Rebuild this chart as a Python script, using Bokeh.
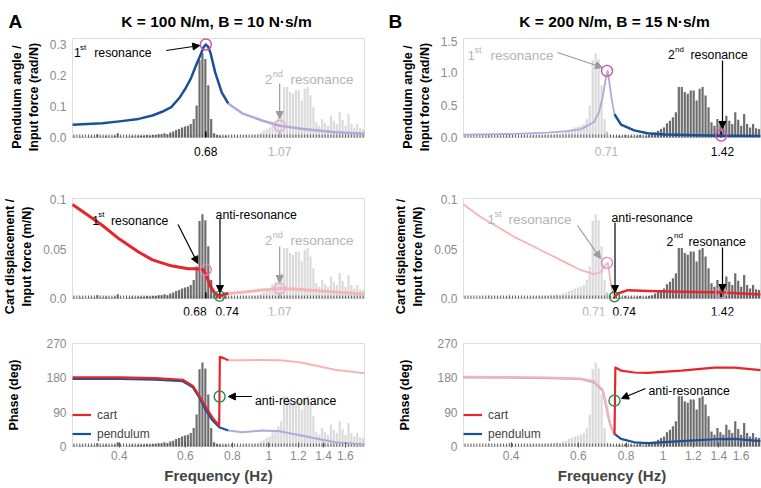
import numpy as np
from bokeh.plotting import figure
from bokeh.models import (Range1d, FixedTicker, Label, Arrow, NormalHead, Legend, LegendItem,
                          BoxAnnotation)
from bokeh.layouts import row, column
from bokeh.embed import file_html
from bokeh.resources import INLINE

FONT = "Liberation Sans"
F_MIN, F_MAX = 0.3, 1.8
N_BINS = 100

# ---------------- data ----------------
hist_norm = [0.01, 0.00, 0.01, 0.01, 0.00, 0.01, 0.01, 0.01, 0.04, 0.01,
             0.01, 0.02, 0.01, 0.01, 0.02, 0.05, 0.01, 0.00, 0.01, 0.01,
             0.02, 0.01, 0.02, 0.02, 0.02, 0.03, 0.02, 0.03, 0.03, 0.04,
             0.04, 0.05, 0.04, 0.06, 0.07, 0.09, 0.10, 0.12, 0.13, 0.14,
             0.16, 0.22, 0.38, 0.92, 1.00, 0.93, 0.62, 0.22, 0.05, 0.03,
             0.02, 0.01, 0.02, 0.01, 0.03, 0.01, 0.02, 0.01, 0.02, 0.03,
             0.01, 0.02, 0.03, 0.04, 0.06, 0.08, 0.10, 0.12, 0.17, 0.20,
             0.24, 0.30, 0.60, 0.60, 0.54, 0.52, 0.56, 0.56, 0.44, 0.58,
             0.60, 0.50, 0.36, 0.18, 0.14, 0.22, 0.17, 0.14, 0.26, 0.20,
             0.16, 0.30, 0.21, 0.14, 0.28, 0.16, 0.12, 0.16, 0.11, 0.10]

titleA = "K = 100 N/m, B = 10 N·s/m"
titleB = "K = 200 N/m, B = 15 N·s/m"

# column A (dark for f <= cutA)
cutA = 0.78
pendA_f = [0.30, 0.36, 0.40, 0.45, 0.49, 0.52, 0.55, 0.58, 0.60, 0.62, 0.64, 0.66, 0.67, 0.68,
           0.69, 0.70, 0.72, 0.75, 0.78, 0.85, 0.96, 1.07, 1.22, 1.50, 1.80]
pendA_v = [0.041, 0.046, 0.052, 0.060, 0.071, 0.083, 0.098, 0.130, 0.158, 0.190, 0.232, 0.270,
           0.290, 0.300, 0.292, 0.272, 0.210, 0.145, 0.110, 0.078, 0.055, 0.038, 0.028, 0.017, 0.012]
cartA_f = [0.30, 0.33, 0.36, 0.40, 0.45, 0.49, 0.55, 0.61, 0.64, 0.67, 0.684, 0.70, 0.72, 0.74,
           0.76, 0.78, 0.85, 0.96, 1.07, 1.22, 1.50, 1.80]
cartA_v = [0.095, 0.084, 0.074, 0.060, 0.047, 0.039, 0.033, 0.030, 0.030, 0.029, 0.022, 0.012,
           0.005, 0.0024, 0.0042, 0.005, 0.0062, 0.0085, 0.0100, 0.0092, 0.0065, 0.0045]
phPendA_f = [0.30, 0.40, 0.50, 0.59, 0.628, 0.653, 0.681, 0.709, 0.738, 0.78, 0.85, 0.96, 1.07,
             1.22, 1.50, 1.80]
phPendA_v = [177, 177, 175, 171, 155, 129, 94, 68, 50.5, 42, 37.5, 42, 40, 29, 11, 5]
phCartA_f = [0.30, 0.40, 0.50, 0.59, 0.628, 0.653, 0.681, 0.709, 0.738, 0.741, 0.761, 0.78, 0.85,
             0.96, 1.07, 1.22, 1.50, 1.80]
phCartA_v = [181, 181, 179, 175, 159, 133, 103, 75, 55, 235, 231, 226, 226, 227, 226, 220, 201, 192]

# column B (dark for f >= cutB)
cutB = 0.746
pendB_f = [0.30, 0.41, 0.50, 0.56, 0.61, 0.66, 0.68, 0.695, 0.709, 0.716, 0.723, 0.733, 0.746,
           0.776, 0.84, 0.91, 1.01, 1.23, 1.44, 1.80]
pendB_v = [0.045, 0.055, 0.075, 0.100, 0.130, 0.240, 0.400, 0.630, 0.940, 1.030, 0.860, 0.600,
           0.360, 0.200, 0.110, 0.065, 0.045, 0.033, 0.028, 0.025]
cartB_f = [0.30, 0.332, 0.368, 0.407, 0.45, 0.498, 0.551, 0.609, 0.66, 0.688, 0.705, 0.716,
           0.728, 0.738, 0.746, 0.761, 0.809, 0.912, 1.116, 1.439, 1.80]
cartB_v = [0.095, 0.0825, 0.0724, 0.0623, 0.054, 0.0455, 0.037, 0.0286, 0.0246, 0.027, 0.0337,
           0.036, 0.0185, 0.005, 0.0017, 0.005, 0.0084, 0.0077, 0.0067, 0.006, 0.004]
phPendB_f = [0.30, 0.40, 0.50, 0.609, 0.66, 0.695, 0.713, 0.723, 0.746, 0.776, 0.841, 0.912,
             1.116, 1.365, 1.541, 1.80]
phPendB_v = [181, 180, 179, 177, 168, 146, 94, 64, 33, 20, 11, 9, 14, 19, 20, 14]
phCartB_f = [0.30, 0.40, 0.50, 0.609, 0.66, 0.695, 0.713, 0.73, 0.746, 0.750, 0.776, 0.841,
             0.912, 1.116, 1.365, 1.541, 1.80]
phCartB_v = [183, 182, 181, 178.5, 171, 149, 103, 50.5, 31, 207, 199, 194, 193, 199, 207, 207, 200]

# marked points
resA_f = [0.68, 1.07]
resA_pend = [0.300, 0.038]
resA_cart = [0.029, 0.010]
resA_lab = ["0.68", "1.07"]
antiA_f, antiA_cart, antiA_phase, antiA_lab = 0.74, 0.0024, 131, "0.74"
resB_f = [0.713, 1.42]
resB_pend = [1.03, 0.030]
resB_cart = [0.036, 0.006]
resB_lab = ["0.71", "1.42"]
antiB_f, antiB_cart, antiB_phase, antiB_lab = 0.746, 0.0017, 120, "0.74"

freq_ticks = [0.4, 0.6, 0.8, 1.0, 1.2, 1.4, 1.6]
freq_tick_labels = ["0.4", "0.6", "0.8", "1", "1.2", "1.4", "1.6"]

# ---------------- styles ----------------
DBLUE, LBLUE = "#1c4f9a", "#aeaade"
DRED, LRED = "#e4262b", "#f5b5b5"
DBAR, LBAR = "#6d6d6d", "#dadada"
PINK, LPINK = "#d6509f", "#e9a6d0"
GREEN = "#2a8a4a"
GTXT = "#b3b3b3"
TICKC = "#8a8a8a"
BOXC = "#939393"

edges = F_MIN * (F_MAX / F_MIN) ** (np.arange(N_BINS + 1) / N_BINS)
centers = np.sqrt(edges[:-1] * edges[1:])
shrink = (F_MAX / F_MIN) ** (0.13 / N_BINS)

# reference geometry (px): box left, box width, box bottom, px per y unit
REF = {
    "LT": (68.0, 296.0, 137.0, 310.0),
    "LM": (68.0, 296.0, 298.0, 990.0),
    "LB": (68.0, 296.0, 446.0, 103.0 / 270),
    "RT": (463.0, 297.0, 137.0, 64.67),
    "RM": (463.0, 297.0, 298.0, 990.0),
    "RB": (463.0, 297.0, 446.0, 103.0 / 270),
}
TICK_H = {}


def R(key, rx, ry):
    x0, w, yb, ppu = REF[key]
    return F_MIN * (F_MAX / F_MIN) ** ((rx - x0) / w), (yb - ry) / ppu


def base_fig(key, bl, br, bt, bb, box_h, ext, yticks, ylabels, ylabel, label_standoff=6):
    x0, w, yb, ppu = REF[key]
    fw = int(w) + 2
    fh = box_h + 1 + ext
    ratio = F_MAX / F_MIN
    xr = Range1d(F_MIN * ratio ** (-1.0 / w), F_MAX * ratio ** (1.0 / w))
    yr = Range1d(-ext / ppu, (box_h + 1) / ppu)
    p = figure(width=bl + fw + br, height=bt + fh + bb, x_axis_type="log",
               x_range=xr, y_range=yr,
               min_border_left=bl, min_border_right=br, min_border_top=bt, min_border_bottom=bb,
               output_backend="svg", toolbar_location=None)
    p.grid.visible = False
    p.outline_line_color = None
    ymax = box_h / ppu
    p.add_layout(BoxAnnotation(left=F_MIN, right=F_MAX, bottom=0, top=ymax, fill_alpha=0,
                               line_color=BOXC, line_width=1))
    ya = p.yaxis[0]
    ya.ticker = FixedTicker(ticks=yticks)
    ya.major_label_overrides = dict(zip(yticks, ylabels))
    ya.axis_line_color = None
    ya.major_tick_line_color = None
    ya.major_tick_out = 0
    ya.major_tick_in = 0
    ya.minor_tick_line_color = None
    ya.minor_tick_out = 0
    ya.minor_tick_in = 0
    ya.major_label_text_color = TICKC
    ya.major_label_text_font = FONT
    ya.major_label_text_font_size = "12px"
    ya.major_label_standoff = 5
    ya.axis_label = ylabel
    ya.axis_label_text_font = FONT
    ya.axis_label_text_font_style = "bold"
    ya.axis_label_text_font_size = "12.5px"
    ya.axis_label_standoff = label_standoff
    ya.axis_label_text_color = "black"
    TICK_H[key] = 3.0 / ppu
    return p


def draw_hist(p, key, scale, dark):
    top = np.array(hist_norm) * scale
    colors = [DBAR if d else LBAR for d in dark]
    p.quad(left=edges[:-1] * shrink, right=edges[1:] / shrink, bottom=0, top=top,
           fill_color=colors, line_color=None)
    p.segment(x0=centers, y0=np.zeros(N_BINS), x1=centers, y1=np.full(N_BINS, TICK_H[key]),
              line_color="#5a5a5a", line_width=1)


def split(f, v, cut, dark_low):
    f = np.array(f, dtype=float)
    v = np.array(v, dtype=float)
    if dark_low:
        dm, lm = f <= cut, f >= cut
    else:
        dm, lm = f >= cut, f <= cut
    return (f[dm], v[dm]), (f[lm], v[lm])


def curve(p, f, v, cut, dark_low, dcol, lcol, dw, lw):
    (fd, vd), (fl, vl) = split(f, v, cut, dark_low)
    p.line(fl, vl, line_color=lcol, line_width=lw, line_join="round")
    return p.line(fd, vd, line_color=dcol, line_width=dw, line_join="round")


def txt(p, x, y, text, size, color, align="left", bold=False, baseline="alphabetic"):
    p.add_layout(Label(x=x, y=y, text=text, text_font=FONT,
                       text_font_size=size, text_color=color, text_align=align,
                       text_baseline=baseline, text_font_style="bold" if bold else "normal"))


def annotate(p, key, texts, arrows):
    for t, rx, ry, size, color, align in texts:
        x, y = R(key, rx, ry)
        txt(p, x, y, t, size, color, align)
    for (rx0, ry0, rx1, ry1, color) in arrows:
        x0, y0 = R(key, rx0, ry0)
        x1, y1 = R(key, rx1, ry1)
        p.add_layout(Arrow(x_start=x0, y_start=y0, x_end=x1, y_end=y1, line_color=color,
                           line_width=1.2,
                           end=NormalHead(size=7, fill_color=color, line_color=color, line_width=1)))


def circles(p, xs, ys, color, size=11):
    p.scatter(xs, ys, marker="circle", size=size, fill_color=None, line_color=color, line_width=1.4)


def mark_ticks(p, key, xs, colors):
    n = len(xs)
    p.segment(x0=xs, y0=[0] * n, x1=xs, y1=[2 * TICK_H[key]] * n, line_color=colors,
              line_width=1.5)


def freq_axis(p):
    xa = p.xaxis[0]
    xa.ticker = FixedTicker(ticks=freq_ticks)
    xa.major_label_overrides = dict(zip(freq_ticks, freq_tick_labels))
    xa.minor_tick_line_color = None
    xa.minor_tick_out = 0
    xa.major_tick_in = 5
    xa.major_tick_out = 0
    xa.major_tick_line_color = "#555555"
    xa.axis_line_color = None
    xa.major_label_text_color = TICKC
    xa.major_label_text_font = FONT
    xa.major_label_text_font_size = "12px"
    xa.major_label_standoff = 3
    xa.axis_label = "Frequency (Hz)"
    xa.axis_label_text_font = FONT
    xa.axis_label_text_font_style = "bold"
    xa.axis_label_text_font_size = "15px"
    xa.axis_label_standoff = 4


def add_legend(p, rc, rp):
    lg = Legend(items=[LegendItem(label="cart", renderers=[rc]),
                       LegendItem(label="pendulum", renderers=[rp])],
                location=(1, 4), padding=5, margin=0, spacing=0, glyph_height=19, glyph_width=19,
                label_height=19, label_standoff=6, label_text_font=FONT,
                label_text_font_size="12px", border_line_color=None, background_fill_alpha=0)
    p.add_layout(lg)


BK, B1, G1 = "12.3px", "8px", "13.5px"
G2 = "9px"

darkA = centers <= cutA
darkB = centers >= cutB

# ---------------- header (panel letters and titles) ----------------
HDR_H = 36
header = figure(width=761, height=HDR_H, x_range=Range1d(0, 761), y_range=Range1d(0, HDR_H),
                x_axis_location=None, y_axis_location=None, min_border=0,
                output_backend="svg", toolbar_location=None)
header.grid.visible = False
header.outline_line_color = None
txt(header, 8, HDR_H - 21, "A", "19px", "black", "left", True)
txt(header, 388, HDR_H - 21, "B", "19px", "black", "left", True)
txt(header, 216, HDR_H - 20.5, titleA, "15.5px", "black", "center", True)
txt(header, 614, HDR_H - 20.5, titleB, "15.5px", "black", "center", True)

# ---------------- column A ----------------
LBW, LBR = 67, 3
LT = base_fig("LT", LBW, LBR, 1, 3, 99, 19, [0, 0.1, 0.2, 0.3], ["0.0", "0.1", "0.2", "0.3"],
              "Pendulum angle /\nInput force (rad/N)")
LT.xaxis.visible = False
draw_hist(LT, "LT", 0.272, darkA)
mark_ticks(LT, "LT", resA_f, ["black", GTXT])
curve(LT, pendA_f, pendA_v, cutA, True, DBLUE, LBLUE, 2.5, 2.5)
circles(LT, resA_f[:1], resA_pend[:1], PINK)
circles(LT, resA_f[1:], resA_pend[1:], LPINK)
annotate(LT, "LT",
         [("1", 69.5, 52, BK, "black", "left"), ("st", 75.5, 46.5, B1, "black", "left"),
          ("resonance", 90, 52, BK, "black", "left"),
          ("2", 263, 79, G1, GTXT, "left"), ("nd", 271, 73, G2, GTXT, "left"),
          ("resonance", 289, 79, G1, GTXT, "left"),
          (resA_lab[0], 203, 151, "12px", "black", "center"),
          (resA_lab[1], 278, 151, "12px", GTXT, "center")],
         [(163, 50, 197, 45, "black"), (278, 83, 278, 118, "#9a9a9a")])

LM = base_fig("LM", LBW, LBR, 38, 3, 100, 17, [0, 0.05, 0.1], ["0.0", "0.05", "0.1"],
              "Cart displacement /\nInput force (m/N)")
LM.xaxis.visible = False
draw_hist(LM, "LM", 0.085, darkA)
mark_ticks(LM, "LM", resA_f + [antiA_f], ["black", GTXT, "black"])
curve(LM, cartA_f, cartA_v, cutA, True, DRED, LRED, 3, 3)
circles(LM, resA_f[:1], resA_cart[:1], "#d98cc4")
circles(LM, resA_f[1:], resA_cart[1:], LPINK)
circles(LM, [antiA_f], [antiA_cart], GREEN, 10)
annotate(LM, "LM",
         [("1", 88, 220, BK, "black", "left"), ("st", 94, 214, B1, "black", "left"),
          ("resonance", 107, 220, BK, "black", "left"),
          ("anti-resonance", 213, 214, BK, "black", "left"),
          ("2", 263, 240, G1, GTXT, "left"), ("nd", 271, 234, G2, GTXT, "left"),
          ("resonance", 289, 240, G1, GTXT, "left"),
          (resA_lab[0], 204, 311, "12px", "black", "right"),
          (antiA_lab, 213, 311, "12px", "black", "left"),
          (resA_lab[1], 278, 311, "12px", GTXT, "center")],
         [(175, 224, 195, 263, "black"), (217.5, 218, 217.5, 292, "black"),
          (278, 246, 278, 282, "#9a9a9a")])

LB = base_fig("LB", LBW, LBR, 24, 41, 103, 1, [0, 90, 180, 270], ["0", "90", "180", "270"],
              "Phase (deg)", label_standoff=22)
freq_axis(LB)
draw_hist(LB, "LB", 220, darkA)
rpA = curve(LB, phPendA_f, phPendA_v, cutA, True, DBLUE, LBLUE, 2.2, 2)
rcA = curve(LB, phCartA_f, phCartA_v, cutA, True, DRED, LRED, 2.2, 2)
circles(LB, [antiA_f], [antiA_phase], GREEN, 11)
annotate(LB, "LB", [("anti-resonance", 253, 400, BK, "black", "left")],
         [(250, 396, 226, 396, "black")])
add_legend(LB, rcA, rpA)

# ---------------- column B ----------------
RBL, RBR = 94, 0
RT = base_fig("RT", RBL, RBR, 1, 3, 99, 19, [0, 0.5, 1.0, 1.5], ["0.0", "0.5", "1.0", "1.5"],
              "Pendulum angle /\nInput force (rad/N)")
RT.xaxis.visible = False
draw_hist(RT, "RT", 1.30, darkB)
mark_ticks(RT, "RT", resB_f, [GTXT, "black"])
curve(RT, pendB_f, pendB_v, cutB, False, DBLUE, LBLUE, 2.5, 1.8)
circles(RT, resB_f, resB_pend, PINK)
annotate(RT, "RT",
         [("1", 467, 55, G1, GTXT, "left"), ("st", 474, 49, G2, GTXT, "left"),
          ("resonance", 490, 55, G1, GTXT, "left"),
          ("2", 667.5, 54, BK, "black", "left"), ("nd", 674.5, 48.5, B1, "black", "left"),
          ("resonance", 690, 54, BK, "black", "left"),
          (resB_lab[0], 606, 151, "12px", GTXT, "center"),
          (resB_lab[1], 722, 151, "12px", "black", "center")],
         [(557, 52, 602, 67, "#9a9a9a"), (722, 60, 722, 128, "black")])

RM = base_fig("RM", RBL, RBR, 38, 3, 100, 17, [0, 0.05, 0.1], ["0.0", "0.05", "0.1"],
              "Cart displacement /\nInput force (m/N)")
RM.xaxis.visible = False
draw_hist(RM, "RM", 0.085, darkB)
mark_ticks(RM, "RM", resB_f + [antiB_f], [GTXT, "black", "black"])
curve(RM, cartB_f, cartB_v, cutB, False, DRED, LRED, 2.5, 1.8)
circles(RM, resB_f, resB_cart, "#d98cc4")
circles(RM, [antiB_f], [antiB_cart], GREEN, 10)
annotate(RM, "RM",
         [("1", 487, 219, G1, GTXT, "left"), ("st", 494, 213, G2, GTXT, "left"),
          ("resonance", 508, 219, G1, GTXT, "left"),
          ("anti-resonance", 611, 217, BK, "black", "left"),
          ("2", 666, 241, BK, "black", "left"), ("nd", 673.5, 235, B1, "black", "left"),
          ("resonance", 688, 241, BK, "black", "left"),
          (resB_lab[0], 605, 311, "12px", GTXT, "right"),
          (antiB_lab, 612, 311, "12px", "black", "left"),
          (resB_lab[1], 722, 311, "12px", "black", "center")],
         [(577, 225, 600, 258, "#9a9a9a"), (614.5, 222, 614.5, 292, "black"),
          (722, 247, 722, 291, "black")])

RB = base_fig("RB", RBL, RBR, 24, 41, 103, 1, [0, 90, 180, 270], ["0", "90", "180", "270"],
              "Phase (deg)", label_standoff=22)
freq_axis(RB)
draw_hist(RB, "RB", 220, darkB)
rpB = curve(RB, phPendB_f, phPendB_v, cutB, False, DBLUE, LBLUE, 2.2, 2)
rcB = curve(RB, phCartB_f, phCartB_v, cutB, False, DRED, LRED, 2.2, 2)
circles(RB, [antiB_f], [antiB_phase], GREEN, 11)
annotate(RB, "RB", [("anti-resonance", 648, 390, BK, "black", "left")],
         [(645, 388, 621, 398, "black")])
add_legend(RB, rcB, rpB)

layout = column(header, row(column(LT, LM, LB), column(RT, RM, RB)))
open("out.html", "w").write(file_html(layout, INLINE))
